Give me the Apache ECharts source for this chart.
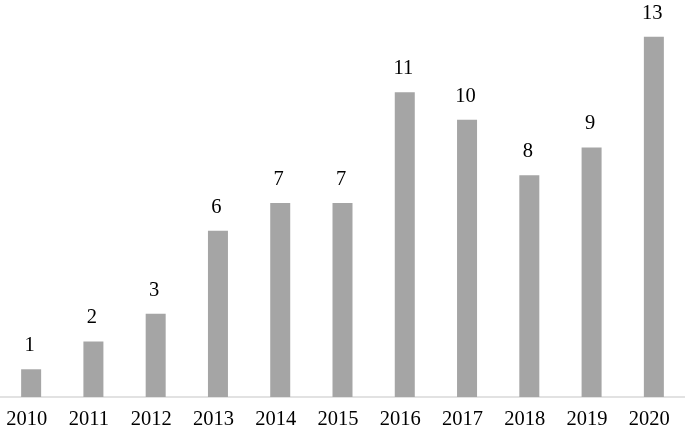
<!DOCTYPE html>
<html><head><meta charset="utf-8">
<script src="https://cdn.jsdelivr.net/npm/echarts@6/dist/echarts.min.js"></script>
<style>html,body{margin:0;padding:0;background:#fff}#c{width:685px;height:432px}</style>
</head><body><div id="c"></div>
<script>
const years = ['2010','2011','2012','2013','2014','2015','2016','2017','2018','2019','2020'];
const counts = [1,2,3,6,7,7,11,10,8,9,13];
const chart = echarts.init(document.getElementById('c'));
chart.setOption({
  animation:false,
  grid:{left:0,right:0,top:9,bottom:35},
  xAxis:{type:'category',data:years,
    axisLine:{lineStyle:{color:'#d9d9d9',width:1.5}},axisTick:{show:false},
    axisLabel:{color:'#000',fontFamily:'Liberation Serif',fontSize:20.5,margin:12,padding:[0,9,0,0]}},
  yAxis:{type:'value',min:0,max:14,show:false,splitLine:{show:false}},
  series:[{type:'bar',data:counts,barWidth:20,itemStyle:{color:'#a5a5a5'},
    label:{show:true,position:'top',distance:13,color:'#000',fontFamily:'Liberation Serif',fontSize:20.5,padding:[0,3,0,0]}}]
});
</script></body></html>
